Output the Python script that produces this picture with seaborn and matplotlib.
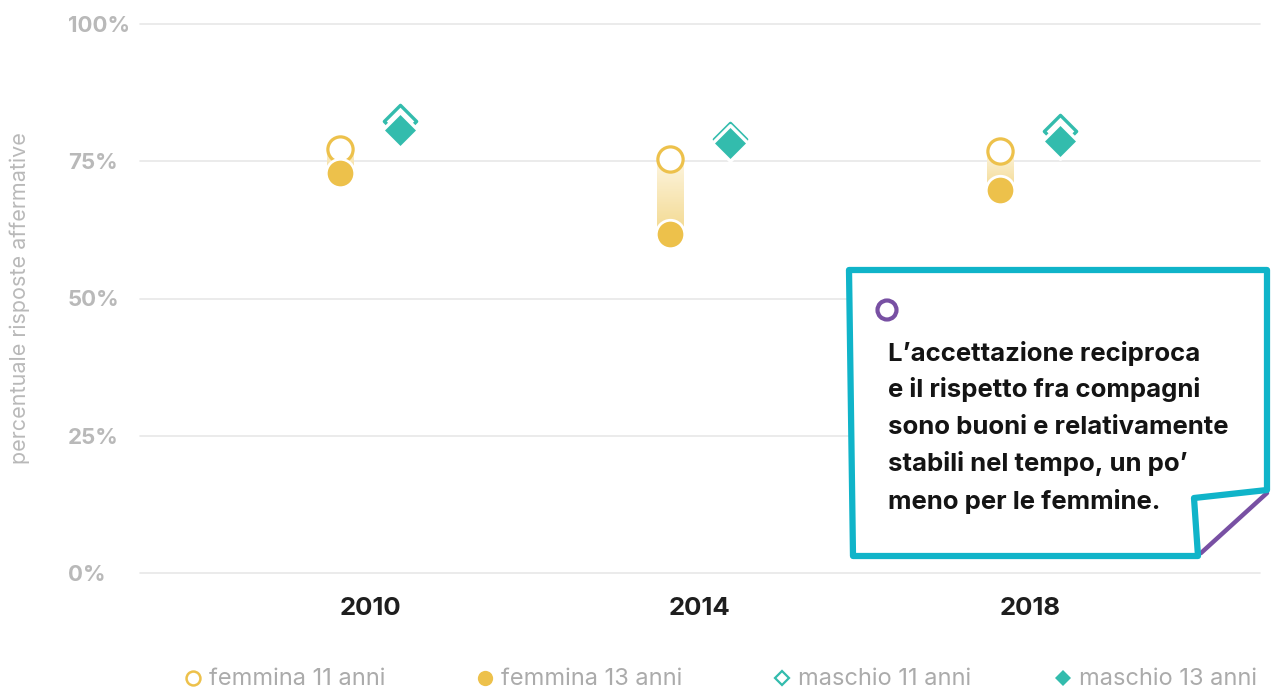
import matplotlib.pyplot as plt
import seaborn as sns
import numpy as np
import pandas as pd
from matplotlib.colors import LinearSegmentedColormap
from matplotlib.patches import Polygon, Circle

# dati
anni = ["2010", "2014", "2018"]
femmina_11 = [77.3, 75.4, 76.9]
femmina_13 = [72.9, 61.8, 69.7]
maschio_11 = [82.4, 79.1, 80.6]
maschio_13 = [80.7, 78.4, 78.6]
etichette = ["femmina 11 anni", "femmina 13 anni", "maschio 11 anni", "maschio 13 anni"]

GIALLO = "#edc14b"
VERDE = "#33bcad"
GRIGIO = "#b9b9b9"
CIANO = "#10b4c9"
VIOLA = "#7850a3"

sns.set_theme(style="white")
plt.rcParams['font.family'] = ['Inter', 'DejaVu Sans']

fig = plt.figure(figsize=(12.72, 6.9), dpi=100)
ax = fig.add_axes([140 / 1272, 1 - 573 / 690, 1120 / 1272, 549 / 690])

x = np.arange(len(anni))
off = 0.09
df = pd.DataFrame({
    "x_f": x - off, "x_m": x + off,
    "f11": femmina_11, "f13": femmina_13,
    "m11": maschio_11, "m13": maschio_13,
})

# griglia
for t in [0, 25, 50, 75, 100]:
    ax.axhline(t, color="#e8e8e8", lw=1.2, zorder=0, clip_on=False)

# sfumatura fra 11 e 13 anni (femmine)
cmap = LinearSegmentedColormap.from_list("sf", ["#f3d98f", "#fdf5e0"])
grad = np.linspace(0, 1, 100).reshape(-1, 1)
w = 0.04
for xi, a, b in zip(df["x_f"], df["f11"], df["f13"]):
    ax.imshow(grad, cmap=cmap, aspect="auto", extent=[xi - w, xi + w, b, a],
              origin="lower", zorder=1)

sns.scatterplot(data=df, x="x_f", y="f11", ax=ax, marker="o", s=330,
                facecolor="white", edgecolor=GIALLO, linewidth=2.3, zorder=2)
sns.scatterplot(data=df, x="x_f", y="f13", ax=ax, marker="o", s=420,
                color=GIALLO, edgecolor="white", linewidth=2.0, zorder=3)
sns.scatterplot(data=df, x="x_m", y="m11", ax=ax, marker="D", s=270,
                facecolor="white", edgecolor=VERDE, linewidth=2.4, zorder=2)
sns.scatterplot(data=df, x="x_m", y="m13", ax=ax, marker="D", s=330,
                color=VERDE, edgecolor="white", linewidth=2.4, zorder=3)
for c in ax.collections:
    c.set_joinstyle("round")

ax.set_xlim(-0.697, 2.697)
ax.set_ylim(0, 100)
ax.set_xticks(x)
ax.set_xticklabels(anni, fontsize=18.5, color="#1e1e1e", fontweight="bold")
ax.set_yticks([0, 25, 50, 75, 100])
ax.set_yticklabels(["0%", "25%", "50%", "75%", "100%"], fontsize=16,
                   color=GRIGIO, fontweight="bold")
for lab in ax.get_yticklabels():
    lab.set_horizontalalignment("left")
ax.tick_params(axis="y", length=0, pad=52)
ax.tick_params(axis="x", length=0, pad=17)
ax.set_xlabel("")
ax.set_ylabel("percentuale risposte affermative", fontsize=15.5, color=GRIGIO)
ax.yaxis.set_label_coords(-0.098, 0.5)
sns.despine(ax=ax, left=True, bottom=True)

# livello sovrapposto in pixel per legenda e nota
ov = fig.add_axes([0, 0, 1, 1], zorder=5)
ov.set_xlim(0, 1272)
ov.set_ylim(690, 0)
ov.axis("off")
ov.patch.set_alpha(0)

leg_x = [193, 485, 782, 1063]
stili = [dict(marker="o", mfc="white", mec=GIALLO, ms=10, mew=1.8),
         dict(marker="o", mfc=GIALLO, mec=GIALLO, ms=11, mew=0),
         dict(marker="D", mfc="white", mec=VERDE, ms=7.5, mew=1.6),
         dict(marker="D", mfc=VERDE, mec=VERDE, ms=8, mew=0)]
for lx, lab, st in zip(leg_x, etichette, stili):
    ov.plot([lx], [678], linestyle="none", **st)
    ov.text(lx + 16, 679, lab, fontsize=17, color="#ababab", va="center", ha="left")

# nota
box = [(849, 270), (1267, 270), (1267, 490), (1194, 498), (1198, 556), (853, 556)]
ov.plot([1201, 1267], [553, 493], color=VIOLA, lw=3.2, solid_capstyle="round", zorder=1)
ov.add_patch(Polygon(box, closed=True, facecolor="white", edgecolor=CIANO,
                     lw=4.5, joinstyle="round", zorder=2))
ov.add_patch(Circle((887, 310), 9.5, facecolor="white", edgecolor=VIOLA, lw=3, zorder=3))
righe = ["L’accettazione reciproca", "e il rispetto fra compagni",
         "sono buoni e relativamente", "stabili nel tempo, un po’",
         "meno per le femmine."]
for i, r in enumerate(righe):
    ov.text(888, 353 + i * 37, r, fontsize=18.5, color="#141414", fontweight="bold",
            va="center", ha="left", zorder=4)

plt.savefig("out.png", dpi=100)
